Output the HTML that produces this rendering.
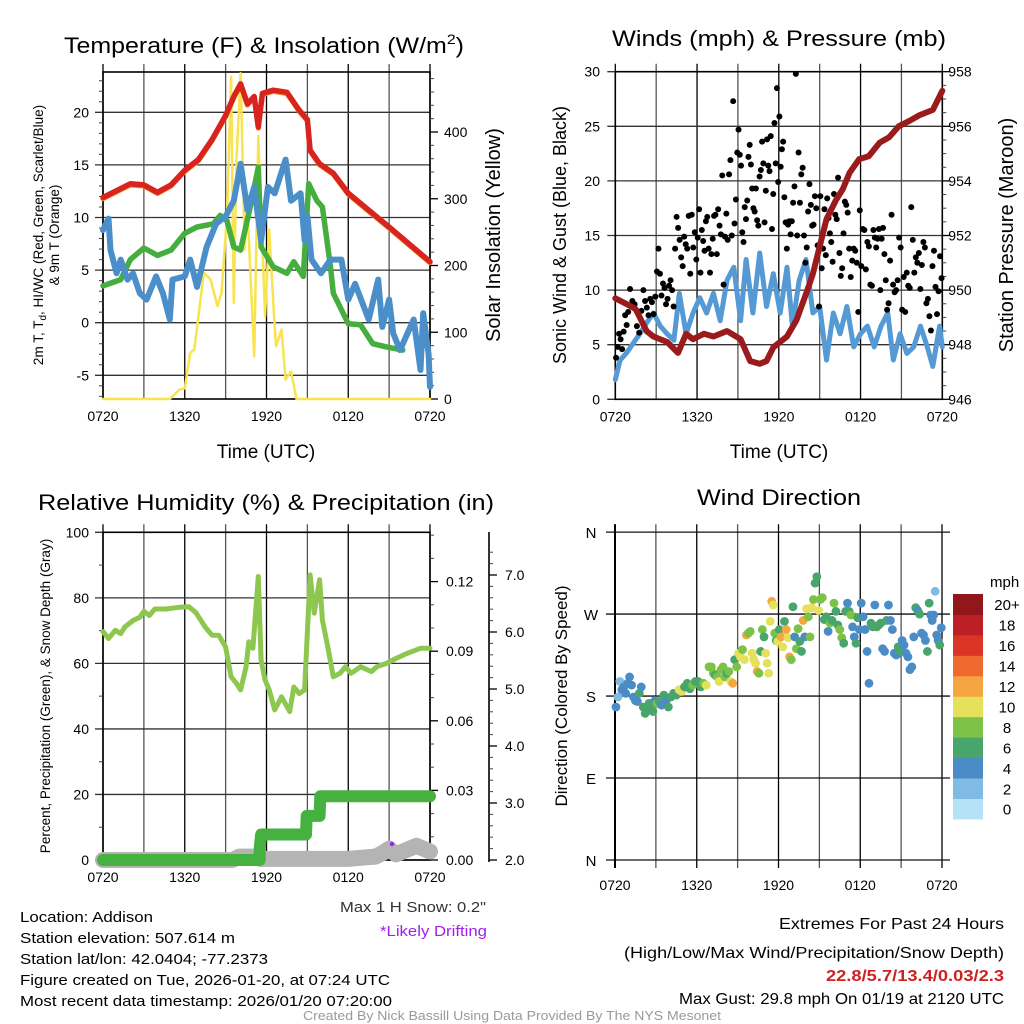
<!DOCTYPE html>
<html><head><meta charset="utf-8">
<style>
html,body{margin:0;padding:0;background:#fff;}
svg{display:block;font-family:"Liberation Sans",sans-serif;}
</style></head>
<body>
<svg id="chart" width="1024" height="1024" viewBox="0 0 1024 1024" xmlns="http://www.w3.org/2000/svg">
<rect x="0" y="0" width="1024" height="1024" fill="#fff"/>
<g id="p1"></g>
<g id="p2"></g>
<g id="p3"></g>
<g id="p4"></g>

<text x="64" y="53" font-size="22" textLength="400" lengthAdjust="spacingAndGlyphs">Temperature (F) &amp; Insolation (W/m<tspan font-size="14" dy="-9">2</tspan><tspan dy="9">)</tspan></text>
<text x="612" y="46" font-size="22" textLength="334" lengthAdjust="spacingAndGlyphs">Winds (mph) &amp; Pressure (mb)</text>
<text x="38" y="510" font-size="22" textLength="456" lengthAdjust="spacingAndGlyphs">Relative Humidity (%) &amp; Precipitation (in)</text>
<text x="697" y="505" font-size="22" textLength="164" lengthAdjust="spacingAndGlyphs">Wind Direction</text>

<text x="266" y="458" font-size="19" text-anchor="middle">Time (UTC)</text>
<text x="779" y="458" font-size="19" text-anchor="middle">Time (UTC)</text>

<text transform="translate(43,235) rotate(-90)" font-size="13.5" text-anchor="middle">2m T, T<tspan font-size="10" dy="3">d</tspan><tspan dy="-3">, HI/WC (Red, Green, Scarlet/Blue)</tspan></text>
<text transform="translate(59,235) rotate(-90)" font-size="13.5" text-anchor="middle">&amp; 9m T (Orange)</text>
<text transform="translate(500,235) rotate(-90)" font-size="20" text-anchor="middle">Solar Insolation (Yellow)</text>
<text transform="translate(566,235) rotate(-90)" font-size="18" text-anchor="middle">Sonic Wind &amp; Gust (Blue, Black)</text>
<text transform="translate(1013,235) rotate(-90)" font-size="20" text-anchor="middle">Station Pressure (Maroon)</text>
<text transform="translate(50,696) rotate(-90)" font-size="13.5" text-anchor="middle">Percent, Precipitation (Green), &amp; Snow Depth (Gray)</text>
<text transform="translate(567,696) rotate(-90)" font-size="17" text-anchor="middle">Direction (Colored By Speed)</text>

<g font-size="15">
<text x="20" y="922" textLength="133" lengthAdjust="spacingAndGlyphs">Location: Addison</text>
<text x="20" y="943" textLength="215" lengthAdjust="spacingAndGlyphs">Station elevation: 507.614 m</text>
<text x="20" y="964" textLength="248" lengthAdjust="spacingAndGlyphs">Station lat/lon: 42.0404; -77.2373</text>
<text x="20" y="985" textLength="370" lengthAdjust="spacingAndGlyphs">Figure created on Tue, 2026-01-20, at 07:24 UTC</text>
<text x="20" y="1006" textLength="372" lengthAdjust="spacingAndGlyphs">Most recent data timestamp: 2026/01/20 07:20:00</text>
</g>
<text x="340" y="912" font-size="15" fill="#333" textLength="146" lengthAdjust="spacingAndGlyphs">Max 1 H Snow: 0.2"</text>
<text x="380" y="936" font-size="15" fill="#a020f0" textLength="107" lengthAdjust="spacingAndGlyphs">*Likely Drifting</text>
<g font-size="16">
<text x="779" y="929" textLength="225" lengthAdjust="spacingAndGlyphs">Extremes For Past 24 Hours</text>
<text x="624" y="958" textLength="380" lengthAdjust="spacingAndGlyphs">(High/Low/Max Wind/Precipitation/Snow Depth)</text>
<text x="826" y="981" font-weight="bold" fill="#cc2222" textLength="178" lengthAdjust="spacingAndGlyphs">22.8/5.7/13.4/0.03/2.3</text>
<text x="679" y="1004" textLength="325" lengthAdjust="spacingAndGlyphs">Max Gust: 29.8 mph On 01/19 at 2120 UTC</text>
</g>
<text x="303" y="1020" font-size="12.5" fill="#999" textLength="418" lengthAdjust="spacingAndGlyphs">Created By Nick Bassill Using Data Provided By The NYS Mesonet</text>
</svg>
<script>
// ---------- DATA ----------
const xTickLabels = ["0720","1320","1920","0120","0720"];
// Panel 1: temperature (hours since 0720, values F)
const tempT = [0,2,3,4,5,6,7,8,9,9.6,10.1,10.6,11.1,11.4,11.7,12.5,13.5,14.4,15,15.2,15.9,16.9,18,21,24];
const tempV = [11.9,13.2,13.1,12.4,13.1,14.5,15.5,17.4,19.7,21.5,22.7,20.8,21.5,18.6,21.8,22.1,21.9,20.2,19.3,16.4,15.1,14.2,12.3,9.1,5.8];
const dewT = [0,1.3,2,3,4,5,6,6.9,8.1,8.6,9.1,9.6,10.1,10.8,11.4,11.6,12.5,13.5,14,14.7,15.1,15.7,16.1,16.7,16.9,18,18.9,19.8,20.8,22];
const dewV = [3.5,4.1,6.0,7.1,6.4,6.9,8.5,9.1,9.4,10.2,9.7,7.2,6.9,11.0,14.8,7.2,5.3,4.7,5.8,4.4,13.2,11.6,11.0,5.3,2.8,-0.1,-0.2,-2.0,-2.3,-2.6];
const chillT = [0,0.4,0.55,1,1.3,1.8,2.2,2.7,3.2,3.9,4.4,4.9,5.1,6,6.4,6.9,7.6,8.3,9,9.6,10.1,10.6,11.1,11.6,12.1,12.6,13.4,13.8,14.5,14.8,15,15.3,16,16.7,17.5,18,18.5,19.5,20.2,20.5,21,21.3,21.8,22.8,23.3,23.5,23.9,24];
const chillV = [8.8,9.9,6.9,4.7,6.0,4.1,4.7,2.8,2.2,4.4,2.8,0.3,4.1,4.4,6.0,3.4,7.2,9.4,10.1,11.6,15.1,10.7,12.9,7.8,12.9,12.3,15.5,11.6,12.3,7.8,10.1,6.0,4.7,6.0,6.0,2.2,3.7,0.3,4.1,-0.4,2.2,-1.0,-2.6,0.3,-4.5,0.9,-3.0,-6.1];
const solarT = [0,4.9,5.6,6.0,6.4,6.7,7.4,7.9,8.4,8.7,9.1,9.4,9.6,9.8,10.1,10.4,10.6,11.1,11.4,11.6,11.9,12.2,12.5,12.7,13.1,13.4,13.8,14.2,14.6,24];
const solarV = [0,0,14,16,69,74,189,179,139,159,274,483,144,359,488,224,289,64,394,279,124,254,144,79,104,29,41,0,0,0];
// Panel 2: wind (mph), pressure (mb), gusts grouped by hour
const windT = [0,0.35,0.8,1.3,1.8,2.3,2.8,3.3,3.8,4.3,4.7,5.2,5.7,6.2,6.7,7.2,7.7,8.2,8.7,9.2,9.6,10.1,10.6,11.1,11.6,12.1,12.6,13.0,13.5,14.0,14.5,15.0,15.5,16.0,16.5,17.0,17.5,18.0,18.5,19.0,19.5,20.0,20.4,20.9,21.4,21.9,22.4,22.9,23.3,23.8,24];
const windV = [1.8,3.6,4.2,5.1,6.0,7.0,7.9,6.7,6.0,5.4,9.7,6.0,7.9,9.3,7.9,9.7,7.2,10.9,12.1,7.2,12.8,7.9,13.4,8.5,11.5,7.9,12.1,6.7,10.9,12.8,7.9,8.5,3.6,7.9,6.0,8.5,4.8,6.0,6.7,4.8,6.7,7.9,3.6,6.0,4.2,4.8,6.7,4.8,3.0,6.7,4.8];
const presT = [0,0.8,1.5,2.3,2.8,3.8,4.6,5.2,5.7,6.5,7.2,8.2,9.2,9.9,10.6,11.1,11.6,12.6,13.3,14.1,14.5,15.0,15.5,16.2,16.7,17.2,17.9,18.6,19.4,20.1,20.8,21.6,22.3,23.3,24];
const presV = [949.7,949.5,949.3,948.5,948.3,948.1,947.7,948.4,948.2,948.4,948.3,948.5,948.2,947.4,947.3,947.4,947.9,948.3,948.9,950.0,950.6,951.6,952.6,953.3,953.7,954.3,954.8,954.9,955.4,955.6,956.0,956.2,956.4,956.6,957.3];
const gustByHour = [
 [3.8,4.8,6.0,5.5,4.6,6.2,7.7,6.8,8.0],
 [10.1,9.0,8.7,6.7,6.1,8.1],
 [10.0,9.0,8.4,7.7,9.2,8.9,7.8,9.4],
 [11.7,13.8,11.5,9.5,10.6,10.2,8.7,9.2,10.4],
 [10.9,10.0,8.5,13.8,16.7,15.7,14.6,13.0,12.2],
 [14.9,14.2,13.8,16.8,11.5,16.9,13.9,15.3,12.8],
 [14.8,17.4,11.6,15.5,14.5,13.6,16.3,16.7,13.8,11.6],
 [13.3,14.7,16.8,16.9,13.3,17.4,15.9,15.1,20.5,10.5],
 [14.9,17.0,14.6,20.6,21.9,15.0,27.3,16.1,18.3,22.6],
 [24.7,22.4,21.4,15.3,14.4,17.6,16.5,18.2,22.2,23.3,21.5],
 [19.3,17.5,17.2,19.3,16.4,15.9,20.4,21.0,23.6,21.6,16.2],
 [19.1,23.8,21.4,20.9,24.1,15.6,18.8,25.3,21.6,28.5,19.9],
 [25.9,21.3,22.9,23.6,18.5,16.2,13.8,16.0,16.3,15.1,16.3],
 [18.0,19.5,29.8,15.0,22.6,18.0,20.6,21.2,15.0,12.5],
 [13.9,17.2,19.7,17.8,15.9,16.0,18.6,17.5,14.1,8.5],
 [18.6,12.0,13.8,17.4,13.2,18.4,16.6,15.2,14.4,12.6],
 [18.8,16.9,16.5,20.3,13.4,11.3,12.0,15.2,18.1,17.8],
 [17.1,13.8,11.2,12.7,13.8,13.6,12.5,8.0,17.3],
 [12.2,15.6,15.5,11.9,14.4,14.0,10.5,10.4,15.5],
 [14.8,13.9,14.7,15.6,10.0,14.7,15.7,13.3,10.9,8.2],
 [8.8,12.7,16.9,10.5,9.8,10.0,10.9,14.8,13.9],
 [8.2,11.2,8.0,11.6,10.4,10.2,17.6,14.6,11.6],
 [13.0,12.5,13.4,10.1,12.3,14.4,13.9,8.8,9.2],
 [7.6,6.3,12.2,13.6,10.3,7.8,9.9,13.1,11.1]
];
// Panel 3: RH (%), precip (in), snow depth (in)
const rhT = [0,0.4,0.9,1.3,1.6,2.2,2.7,3.0,3.4,3.8,4.6,5.6,6.3,6.8,7.5,8.0,8.5,9.0,9.4,9.8,10.1,10.5,10.7,11.0,11.4,11.6,11.9,12.2,12.6,13.1,13.7,14.0,14.4,14.8,15.2,15.5,15.9,16.1,16.5,16.9,17.4,17.8,18.2,18.4,18.9,19.7,20.1,20.8,21.5,22.3,23.3,24];
const rhV = [69.7,67.6,70.1,69.1,71.1,73.1,74.1,75.9,74.6,76.6,76.6,77.1,77.3,75.6,71.1,68.6,68.6,65.0,55.9,53.9,51.9,59.0,66.6,64.6,86.5,61.0,54.9,51.9,45.8,49.8,45.3,52.8,50.8,51.9,87.0,75.3,85.5,73.2,65.0,55.9,57.0,59.0,57.0,57.5,59.0,57.5,59.0,60.0,61.5,63.0,64.6,64.6];
const precipT = [0,11.5,11.5,11.6,14.9,14.95,15.9,15.95,24];
const precipV = [0,0,0.005,0.011,0.011,0.019,0.019,0.0275,0.0275];
const snowT = [0,9.5,10.0,11.0,11.6,18.0,19.0,20.0,20.5,21.0,21.5,22.0,22.5,23.0,23.5,24];
const snowV = [2.0,2.0,2.06,2.06,2.02,2.02,2.04,2.06,2.12,2.2,2.1,2.15,2.2,2.25,2.2,2.15];
// Panel 4: direction (deg) and speed bins (mph) grouped by hour
const dirByHour = [
 [168,179,196,187,190,183,194],[201,192,179,175,174,183,190],[168,161,165,172,170,163,175],
 [172,174,170,181,175,168],[179,183,181,187,185],[190,194,188,192,196],[196,190,194,192,212],
 [212,205,203,201,196,209,212],[201,205,207,196,194,220,212],[227,223,231,220,247,249,251],
 [227,220,216,207,205,229,253,245],[227,216,205,262,284,280,249,241,240],[253,245,234,262,253,244,223,220],
 [278,245,232,254,240,229,263,245],[276,267,245,277,286,304,311,274],[286,288,264,267,251,260,263],
 [282,273,258,253,244,238,273],[282,273,269,256,245,238,266,253],[282,267,253,229,194,260,256],
 [280,256,258,260,232,229,263],[280,263,253,227,225,234,229],[241,236,227,223,209,212,245],
 [277,274,270,249,247,241,229],[282,269,263,269,295,247,241,236,255]
];
const spdByHour = [
 [3,2,2,4,4,4,4],[4,4,4,4,4,6,4],[6,6,6,6,6,6,4],[8,6,4,6,4,6],[6,6,6,10,10],[6,6,6,8,6],[6,6,8,10,8],
 [8,8,6,8,10,8,8],[8,6,8,10,12,6,8],[10,10,8,10,12,8,8],[10,10,10,12,8,6,8,6],[10,10,10,10,12,10,8,6,10],
 [6,12,10,6,12,10,12,8],[6,4,8,8,6,6,12,4],[10,8,8,10,8,6,6,10],[8,8,6,6,4,8,6],[8,6,6,8,8,6,6],
 [4,6,8,4,4,6,6,4],[4,4,4,4,4,6,6],[4,6,6,6,4,4,6],[4,4,4,4,4,6,6],[4,4,4,4,4,4,4],[6,4,6,4,4,4,6],[6,4,4,4,2,4,4,6,4]
];
const cbarLabels = ["0","2","4","6","8","10","12","14","16","18","20+"];
const cbarColors = ["#b5e2f7","#7fbbe5","#4a8dc6","#48a56c","#7cc247","#e6e15a","#f5a542","#ee6a2e","#db3527","#bd1f27","#92171c"];

// ---------- HELPERS ----------
const NS = "http://www.w3.org/2000/svg";
function mk(tag, attrs, parent){ const e=document.createElementNS(NS,tag); for(const k in attrs) e.setAttribute(k,attrs[k]); parent.appendChild(e); return e; }
function txt(s, attrs, parent){ const e=mk("text",attrs,parent); e.textContent=s; return e; }
function pathD(xs, ys){ return xs.map((x,i)=>(i?"L":"M")+x.toFixed(1)+" "+ys[i].toFixed(1)).join(""); }

function frame(g, P, hTicks, name){
  for(let h=0; h<=24; h+=3){
    const x = P.x0 + h/24*(P.x1-P.x0);
    const l = mk("line",{x1:x,x2:x,y1:P.y0-8,y2:P.y1,stroke:(h%6===0?"#000":"#555"),"stroke-width":1.3},g);
    
    
  }
  for(let i=0;i<xTickLabels.length;i++){
    const x = P.x0 + i*6/24*(P.x1-P.x0);
    const t = txt(xTickLabels[i],{x:x,y:P.y1+22,"font-size":14,"text-anchor":"middle"},g);
    
    
  }
  hTicks.forEach(y=>{
    const l = mk("line",{x1:P.x0-8,x2:P.x1,y1:y,y2:y,stroke:"#333","stroke-width":1.3},g);
    
    
  });
  const r = mk("rect",{x:P.x0,y:P.y0,width:P.x1-P.x0,height:P.y1-P.y0,fill:"none",stroke:"#000","stroke-width":1.6},g);
  
  
}
function rightAxis(g, x, ys, labels, minorYs, name, lab){
  ys.forEach((y,i)=>{
    const l=mk("line",{x1:x,x2:x+8,y1:y,y2:y,stroke:"#000","stroke-width":1.3},g);
    
    
    const t=txt(labels[i],{x:x+lab,y:y+5,"font-size":14},g);
    
    
  });
  minorYs.forEach(y=>{ const l=mk("line",{x1:x,x2:x+4,y1:y,y2:y,stroke:"#444","stroke-width":1},g);
    
     });
}
function leftLabels(g, x, ys, labels, name){
  ys.forEach((y,i)=>{ const t=txt(labels[i],{x:x,y:y+5,"font-size":14,"text-anchor":"end"},g);
    
     });
}
function line(g, P, T, ys, color, w, name){
  const xs = T.map(t=>P.x0+t/24*(P.x1-P.x0));
  const p = mk("path",{d:pathD(xs,ys),fill:"none",stroke:color,"stroke-width":w,"stroke-linejoin":"round","stroke-linecap":"round"},g);
  
  
  return p;
}

// ---------- PANEL 1 ----------
(function(){
  const g=document.getElementById('p1');
  const P={x0:103,x1:430,y0:72,y1:399};
  const yT=v=>322.7-v*10.52, yS=s=>399-s*0.6675;
  const lt=[20,15,10,5,0,-5];
  frame(g,P,lt.map(yT),'temp');
  leftLabels(g,89,lt.map(yT),lt.map(String),'temp-left');
  const minL=[]; for(let v=-7;v<=23;v++) if(v%5) minL.push(yT(v));
  minL.forEach(y=>{ const l=mk("line",{x1:P.x0-4,x2:P.x0,y1:y,y2:y,stroke:"#444"},g);
    
     });
  const rt=[0,100,200,300,400]; const rm=[]; for(let s=20;s<490;s+=20) if(s%100) rm.push(yS(s));
  rightAxis(g,P.x1,rt.map(yS),rt.map(String),rm,'solar',14);
  line(g,P,solarT,solarV.map(yS),"#f9e34f",2.5,'solar-line');
  line(g,P,dewT,dewV.map(yT),"#46ad3f",5.5,'dewpoint-line');
  line(g,P,chillT,chillV.map(yT),"#4a8fca",6,'windchill-line');
  line(g,P,tempT,tempV.map(v=>yT(v)+1.2),"#f08a2e",5,'temp-9m-line');
  line(g,P,tempT,tempV.map(yT),"#d8231e",5.5,'temp-2m-line');
})();

// ---------- PANEL 2 ----------
(function(){
  const g=document.getElementById('p2');
  const P={x0:615.3,x1:942.3,y0:71.7,y1:399.3};
  const yW=w=>399.3-w*10.92, yP=p=>399.3-(p-946)*27.3;
  const lt=[0,5,10,15,20,25,30];
  frame(g,P,lt.map(yW),'wind');
  leftLabels(g,600,lt.map(yW),lt.map(String),'wind-left');
  const rt=[946,948,950,952,954,956,958]; const rm=[];
  for(let p=946.5;p<958;p+=0.5) if(p%2) rm.push(yP(p));
  rightAxis(g,P.x1,rt.map(yP),rt.map(String),rm,'pressure',6);
  line(g,P,windT,windV.map(yW),"#559ad5",5,'sonic-wind-line');
  gustByHour.forEach((arr,h)=>{
    arr.forEach((v,i)=>{
      const t=h+(i+0.5)/arr.length;
      const c=mk("circle",{cx:P.x0+t/24*(P.x1-P.x0),cy:yW(v),r:3,fill:"#000"},g);
      
      
    });
  });
  line(g,P,presT,presV.map(yP),"#9b1b1d",6,'pressure-line');
})();

// ---------- PANEL 3 ----------
(function(){
  const g=document.getElementById('p3');
  const P={x0:103,x1:430,y0:532.3,y1:860};
  const yR=r=>860-r*3.277, yPr=p=>860-p/0.03*69.6, ySn=s=>860-(s-2)*57;
  const lt=[0,20,40,60,80,100];
  frame(g,P,lt.map(yR),'rh');
  leftLabels(g,89,lt.map(yR),lt.map(String),'rh-left');
  [10,30,50,70,90].forEach(v=>{ const l=mk("line",{x1:P.x0-4,x2:P.x0,y1:yR(v),y2:yR(v),stroke:"#444"},g);
    
     });
  const pt=[0,0.03,0.06,0.09,0.12]; const pm=[];
  for(let p=0.01;p<0.141;p+=0.01) if(Math.abs(p/0.03-Math.round(p/0.03))>0.01) pm.push(yPr(p));
  rightAxis(g,P.x1,pt.map(yPr),pt.map(v=>v.toFixed(2)),pm,'precip',16);
  const ax=mk("line",{x1:489,x2:489,y1:532,y2:862,stroke:"#000","stroke-width":1.6},g);
  
  
  const st=[2,3,4,5,6,7]; const sm=[]; for(let s=2.2;s<7.6;s+=0.2) if(Math.abs(s-Math.round(s))>0.05) sm.push(ySn(s));
  rightAxis(g,489,st.map(ySn),st.map(v=>v.toFixed(1)),sm,'snow',16);
  line(g,P,snowT,snowV.map(ySn),"#b4b4b4",16,'snow-depth-line');
  line(g,P,rhT,rhV.map(yR),"#8dc74f",5,'rh-line');
  line(g,P,precipT,precipV.map(yPr),"#45b23f",12,'precip-line');
  const d=mk("circle",{cx:392,cy:844,r:2.2,fill:"#a020f0"},g);
  
  
})();

// ---------- PANEL 4 ----------
(function(){
  const g=document.getElementById('p4');
  const P={x0:615,x1:942,y0:532.3,y1:860};
  const yD=d=>860-d*0.9108;
  const dt=[0,90,180,270,360], dl=["N","E","S","W","N"];
  for(let h=0;h<=24;h+=3){ const x=P.x0+h/24*(P.x1-P.x0);
    const l=mk("line",{x1:x,x2:x,y1:P.y0-8,y2:P.y1+8,stroke:(h%6===0?"#000":"#555"),"stroke-width":1.3},g);
    
     }
  dt.forEach((d,i)=>{ const l=mk("line",{x1:606,x2:950,y1:yD(d),y2:yD(d),stroke:"#111","stroke-width":1.3},g);
    
    
    const t=txt(dl[i],{x:591,y:yD(d)+6,"font-size":15,"text-anchor":"middle"},g);
    
     });
  const ax=mk("line",{x1:P.x0,x2:P.x0,y1:P.y0-8,y2:P.y1+8,stroke:"#000","stroke-width":2},g);
  
  
  xTickLabels.forEach((s,i)=>{ const t=txt(s,{x:P.x0+i*0.25*(P.x1-P.x0),y:P.y1+30,"font-size":14,"text-anchor":"middle"},g);
    
     });
  dirByHour.forEach((arr,h)=>{
    arr.forEach((d,i)=>{
      const t=h+(i+0.5)/arr.length;
      const bin=Math.min(10,Math.round(spdByHour[h][i]/2));
      const c=mk("circle",{cx:P.x0+t/24*(P.x1-P.x0),cy:yD(d),r:4.4,fill:cbarColors[bin]},g);
      
      
    });
  });
  const top=594, bh=20.45;
  cbarColors.forEach((c,i)=>{
    const y=top+(10-i)*bh;
    const r=mk("rect",{x:953,y:y,width:30,height:bh+0.5,fill:c},g);
    
    
    const t=txt(cbarLabels[i],{x:1007,y:y+bh/2+6,"font-size":15,"text-anchor":"middle"},g);
    
    
  });
  const m=txt("mph",{x:990,y:587,"font-size":15},g);
  
  
})();
</script>
</body></html>
